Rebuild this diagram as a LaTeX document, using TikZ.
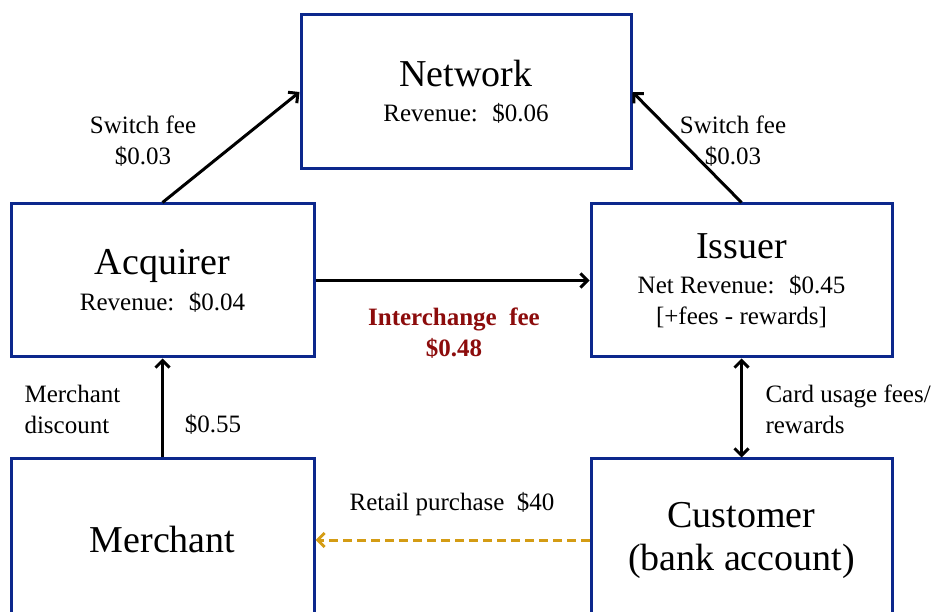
\documentclass[tikz,border=0pt]{standalone}
\usepackage{fontspec}
\setmainfont{Liberation Serif}
\usetikzlibrary{arrows.meta}
\definecolor{boxblue}{RGB}{12,40,140}
\definecolor{feered}{RGB}{140,12,12}
\definecolor{cashgold}{RGB}{212,156,20}
\newcommand{\partyname}[1]{{\fontsize{38}{42}\selectfont #1}}

\begin{document}
\begin{tikzpicture}[x=1pt,y=-1pt,>={Straight Barb[length=7pt,width=14pt]}]
      \tikzstyle{party}=[draw=boxblue,line width=3pt,minimum width=303pt,minimum height=153pt,align=center,font=\fontsize{25}{31}\selectfont]
      \tikzstyle{flow}=[->,line width=3pt]
      \tikzstyle{note}=[font=\fontsize{25}{31}\selectfont,align=center]
      \clip (0,0) rectangle (938,612);
      % the five parties
      \node[party,minimum width=330pt,minimum height=154pt] (net) at (466,92) {\partyname{Network}\\[4pt]Revenue:~ \$0.06};
      \node[party] (acq) at (162.5,280.5) {\partyname{Acquirer}\\[5pt]Revenue:~ \$0.04};
      \node[party,minimum width=301pt] (iss) at (741.5,280.5) {\partyname{Issuer}\\[4pt]Net Revenue:~ \$0.45\\{}[+fees - rewards]};
      \node[party,minimum height=162pt] (mer) at (162.5,540) {\partyname{Merchant}};
      \node[party,minimum width=301pt,minimum height=162pt] (cus) at (741.5,540) {\partyname{Customer}\\[12pt]\partyname{(bank account)}};
      % money flows
      \draw[flow] (acq.north) -- (net.west);
      \draw[flow] (iss.north) -- (net.east);
      \draw[flow] (acq.east) -- (iss.west);
      \draw[flow] (mer.north) -- (acq.south);
      \draw[flow,<->] (iss.south) -- (cus.north);
      \draw[flow,cashgold,dash pattern=on 9pt off 5pt] (cus.west) -- (mer.east);
      % labels
      \node[note] (swl) at (143,141) {Switch fee\\\$0.03};
      \node[note] (swr) at (733,141) {Switch fee\\\$0.03};
      \node[note,text=feered,font=\fontsize{25}{31}\selectfont\bfseries] (ichg) at (454,333) {Interchange~ fee\\\$0.48};
      \node[note,align=left,anchor=west] (mdisc) at (21,409) {Merchant\\discount};
      \node[note] (mamt) at (213,424) {\$0.55};
      \node[note,align=left,anchor=west] (card) at (762,409) {Card usage fees/\\rewards};
      \node[note] (retail) at (452,504) {Retail purchase~ \$40};
\end{tikzpicture}
\end{document}
